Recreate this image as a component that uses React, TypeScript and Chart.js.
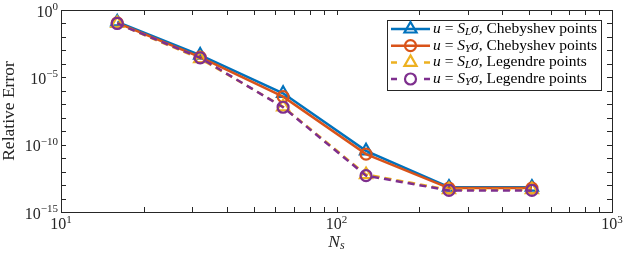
import React, { useEffect, useRef } from "react";
import { Chart, registerables } from "chart.js";
Chart.register(...registerables);

const sizes = [16, 32, 64, 128, 256, 512];
const chebSL = [0.13, 4.5e-4, 6.5e-7, 3.5e-11, 7e-14, 7e-14];
const chebSY = [0.11, 3.2e-4, 3.7e-7, 2e-11, 6e-14, 6e-14];
const legSL = [0.1, 2.4e-4, 6.5e-8, 6e-13, 4.5e-14, 4.5e-14];
const legSY = [0.1, 2.8e-4, 6e-8, 5e-13, 4e-14, 4e-14];

const xTickExps = [1, 2, 3];
const yTickExps = [0, -5, -10, -15];

const seriesNames = ["Chebyshev points", "Chebyshev points", "Legendre points", "Legendre points"];
const seriesSubs = ["L", "Y", "L", "Y"];
const seriesColors = ["#0072BD", "#D95319", "#EDB120", "#7E2F8E"];
const seriesMarkers = ["triangle", "circle", "triangle", "circle"];
const seriesDashed = [false, false, true, true];
const seriesData = [chebSL, chebSY, legSL, legSY];

const FONT = '"Liberation Serif", "DejaVu Serif", serif';
const AXIS = "#262626";
const DASH = [7, 5];

type Part = { t: string; italic?: boolean; size: number; dy?: number };

function font(p: Part) {
  return `${p.italic ? "italic " : ""}${p.size}px ${FONT}`;
}

function drawParts(ctx: CanvasRenderingContext2D, parts: Part[], x: number, y: number, align: "left" | "right" | "center") {
  let total = 0;
  const ws = parts.map((p) => {
    ctx.font = font(p);
    const w = ctx.measureText(p.t).width;
    total += w;
    return w;
  });
  let cx = align === "right" ? x - total : align === "center" ? x - total / 2 : x;
  ctx.textAlign = "left";
  ctx.textBaseline = "middle";
  parts.forEach((p, i) => {
    ctx.font = font(p);
    ctx.fillText(p.t, cx, y + (p.dy || 0));
    cx += ws[i];
  });
}

function drawMarker(ctx: CanvasRenderingContext2D, kind: string, x: number, y: number, r: number) {
  ctx.beginPath();
  if (kind === "circle") {
    ctx.arc(x, y, r, 0, Math.PI * 2);
  } else {
    let rad = 0;
    ctx.moveTo(x + Math.sin(rad) * r, y - Math.cos(rad) * r);
    rad += (Math.PI * 2) / 3;
    ctx.lineTo(x + Math.sin(rad) * r, y - Math.cos(rad) * r);
    rad += (Math.PI * 2) / 3;
    ctx.lineTo(x + Math.sin(rad) * r, y - Math.cos(rad) * r);
    ctx.closePath();
  }
  ctx.stroke();
}

const decoPlugin = {
  id: "deco",
  afterDatasetsDraw(chart: any) {
    const ctx: CanvasRenderingContext2D = chart.ctx;
    const xs = chart.scales.x;
    const ys = chart.scales.y;
    const { left, right, top, bottom } = chart.chartArea;
    ctx.save();
    // box
    ctx.strokeStyle = AXIS;
    ctx.lineWidth = 1;
    ctx.setLineDash([]);
    ctx.strokeRect(Math.round(left) + 0.5, Math.round(top) + 0.5, Math.round(right - left), Math.round(bottom - top));
    // ticks
    const tl = 5;
    const xt: number[] = [];
    for (let d = 10; d < 1000; d *= 10) for (let m = 1; m < 10; m++) xt.push(d * m);
    ctx.beginPath();
    xt.forEach((v) => {
      const px = Math.round(xs.getPixelForValue(v)) + 0.5;
      ctx.moveTo(px, bottom);
      ctx.lineTo(px, bottom - tl);
      ctx.moveTo(px, top);
      ctx.lineTo(px, top + tl);
    });
    for (let e = 0; e >= -15; e--) {
      const py = Math.round(ys.getPixelForValue(Math.pow(10, e))) + 0.5;
      ctx.moveTo(left, py);
      ctx.lineTo(left + tl, py);
      ctx.moveTo(right, py);
      ctx.lineTo(right - tl, py);
    }
    ctx.stroke();
    // tick labels
    ctx.fillStyle = AXIS;
    yTickExps.forEach((e) => {
      const py = ys.getPixelForValue(Math.pow(10, e));
      drawParts(
        ctx,
        [
          { t: "10", size: 16, dy: 2.5 },
          { t: e < 0 ? "\u2212" + Math.abs(e) : String(e), size: 11, dy: -3 },
        ],
        left - 3,
        py,
        "right"
      );
    });
    xTickExps.forEach((e) => {
      const px = xs.getPixelForValue(Math.pow(10, e));
      drawParts(
        ctx,
        [
          { t: "10", size: 16, dy: 0 },
          { t: String(e), size: 11, dy: -5 },
        ],
        px,
        225,
        "center"
      );
    });
    // axis titles
    ctx.fillStyle = AXIS;
    drawParts(
      ctx,
      [
        { t: "N", italic: true, size: 17.5 },
        { t: "s", italic: true, size: 12, dy: 3.5 },
      ],
      (left + right) / 2,
      242,
      "center"
    );
    ctx.save();
    ctx.translate(9, (top + bottom) / 2);
    ctx.rotate(-Math.PI / 2);
    drawParts(ctx, [{ t: "Relative Error", size: 17.5 }], 0, 0, "center");
    ctx.restore();
    // legend
    const lx0 = 387, ly0 = 20, lx1 = 601, ly1 = 90;
    ctx.fillStyle = "#ffffff";
    ctx.fillRect(lx0, ly0, lx1 - lx0, ly1 - ly0);
    ctx.strokeStyle = AXIS;
    ctx.lineWidth = 1;
    ctx.strokeRect(lx0 + 0.5, ly0 + 0.5, lx1 - lx0, ly1 - ly0);
    const rowY = [29, 45.7, 62.4, 79];
    seriesNames.forEach((name, i) => {
      const y = rowY[i];
      ctx.strokeStyle = seriesColors[i];
      ctx.lineWidth = 2.5;
      ctx.beginPath();
      if (seriesDashed[i]) {
        ctx.moveTo(391, y);
        ctx.lineTo(397, y);
        ctx.moveTo(424, y);
        ctx.lineTo(430, y);
      } else {
        ctx.moveTo(391, y);
        ctx.lineTo(430, y);
      }
      ctx.stroke();
      ctx.lineWidth = 2.2;
      drawMarker(ctx, seriesMarkers[i], 410.5, y, seriesMarkers[i] === "circle" ? 5.5 : 7);
      ctx.fillStyle = "#000000";
      drawParts(
        ctx,
        [
          { t: "u", italic: true, size: 15.5 },
          { t: " = ", size: 15.5 },
          { t: "S", italic: true, size: 15.5 },
          { t: seriesSubs[i], italic: true, size: 11, dy: 3 },
          { t: "\u03C3", italic: true, size: 15.5 },
          { t: ", " + name, size: 15.5 },
        ],
        433,
        y,
        "left"
      );
    });
    ctx.restore();
  },
};

export default function App() {
  const ref = useRef<HTMLCanvasElement>(null);
  useEffect(() => {
    document.body.style.margin = "0";
    const datasets = seriesData.map((d, i) => ({
      label: seriesNames[i],
      data: sizes.map((x, j) => ({ x, y: d[j] })),
      borderColor: seriesColors[i],
      backgroundColor: "rgba(0,0,0,0)",
      borderWidth: 2.5,
      borderDash: seriesDashed[i] ? DASH : [],
      pointStyle: seriesMarkers[i],
      pointRadius: seriesMarkers[i] === "circle" ? 5.5 : 7,
      pointBorderWidth: 2.2,
      pointBorderColor: seriesColors[i],
      pointBackgroundColor: "rgba(0,0,0,0)",
      tension: 0,
      order: 4 - i,
    }));
    const chart = new Chart(ref.current!, {
      type: "line",
      data: { datasets },
      plugins: [decoPlugin],
      options: {
        animation: false,
        responsive: false,
        devicePixelRatio: 1,
        layout: { padding: { left: 61, right: 11, top: 10, bottom: 42 } },
        plugins: { legend: { display: false }, tooltip: { enabled: false } },
        scales: {
          x: {
            type: "logarithmic",
            min: 10,
            max: 1000,
            grid: { display: false, drawTicks: false },
            border: { display: false },
            ticks: { display: false },
            afterFit: (s: any) => {
              s.height = 0;
            },
          },
          y: {
            type: "logarithmic",
            min: 1e-15,
            max: 1,
            grid: { display: false, drawTicks: false },
            border: { display: false },
            ticks: { display: false },
            afterFit: (s: any) => {
              s.width = 0;
            },
          },
        },
      },
    });
    return () => chart.destroy();
  }, []);
  return <canvas ref={ref} width={623} height={254} style={{ display: "block" }} />;
}
